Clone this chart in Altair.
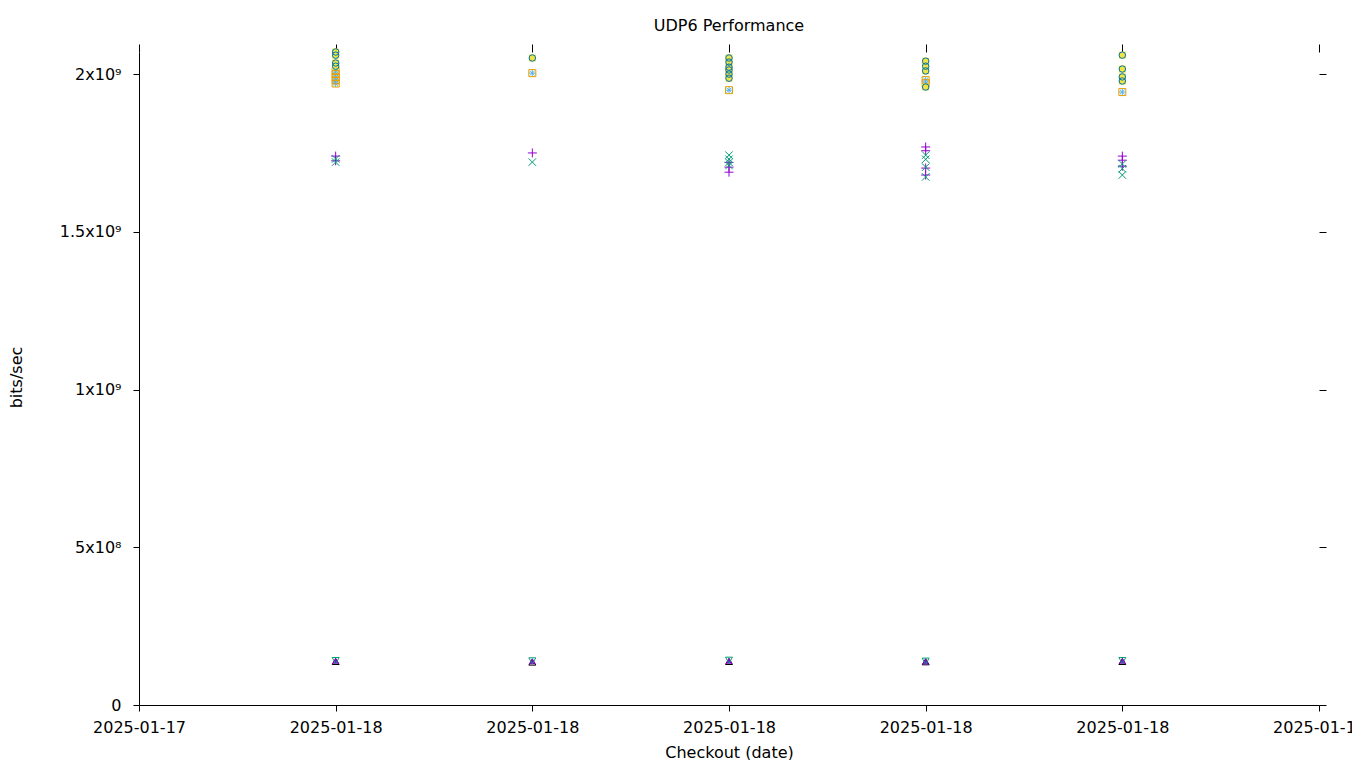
import json
import altair as alt
import pandas as pd

# ---- axis ticks / labels ----
x_tick_vals = [0, 1, 2, 3, 4, 5, 6]
x_tick_labels = ["2025-01-17", "2025-01-18", "2025-01-18", "2025-01-18",
                 "2025-01-18", "2025-01-18", "2025-01-18"]
y_tick_vals = [0, 500000000, 1000000000, 1500000000, 2000000000]
y_tick_labels = ["0", "5x10⁸", "1x10⁹", "1.5x10⁹", "2x10⁹"]

# ---- series data (column index = checkout, value = bits/sec) ----
s1_col = [1, 1, 2, 3, 3, 3, 4, 4, 4, 4, 5, 5, 5]
s1_val = [1.740e9, 1.725e9, 1.750e9, 1.689e9, 1.720e9, 1.705e9,
          1.769e9, 1.757e9, 1.702e9, 1.680e9, 1.740e9, 1.727e9, 1.708e9]

s2_col = [1, 1, 2, 3, 3, 3, 3, 4, 4, 4, 4, 5, 5, 5]
s2_val = [1.731e9, 1.721e9, 1.721e9, 1.743e9, 1.730e9, 1.720e9, 1.710e9,
          1.743e9, 1.730e9, 1.705e9, 1.674e9, 1.715e9, 1.700e9, 1.680e9]

s3_col = [1, 1, 1, 1, 1, 2, 3, 4, 4, 5]
s3_val = [2.010e9, 2.000e9, 1.990e9, 1.980e9, 1.970e9, 2.003e9,
          1.949e9, 1.981e9, 1.971e9, 1.943e9]

s4_col = [1, 1, 1, 1, 1, 2, 3, 4, 4, 5]
s4_val = [2.010e9, 2.000e9, 1.990e9, 1.980e9, 1.970e9, 2.003e9,
          1.949e9, 1.981e9, 1.971e9, 1.943e9]

s5_col = [1, 1, 1, 1, 2, 3, 3, 3, 3, 3, 3, 4, 4, 4, 4, 5, 5, 5, 5]
s5_val = [2.070e9, 2.060e9, 2.035e9, 2.025e9, 2.051e9,
          2.051e9, 2.038e9, 2.022e9, 2.013e9, 2.000e9, 1.987e9,
          2.041e9, 2.025e9, 2.010e9, 1.959e9,
          2.060e9, 2.016e9, 1.991e9, 1.978e9]

s6_col = [1, 1, 1, 1, 2, 3, 3, 3, 3, 3, 3, 4, 4, 4, 4, 5, 5, 5, 5]
s6_val = [2.070e9, 2.060e9, 2.035e9, 2.025e9, 2.051e9,
          2.051e9, 2.038e9, 2.022e9, 2.013e9, 2.000e9, 1.987e9,
          2.041e9, 2.025e9, 2.010e9, 1.959e9,
          2.060e9, 2.016e9, 1.991e9, 1.978e9]

s7_col = [1, 2, 3, 4, 5]
s7_val = [1.38e8, 1.36e8, 1.38e8, 1.37e8, 1.38e8]

s8_col = [1, 2, 3, 4, 5]
s8_val = [1.40e8, 1.39e8, 1.40e8, 1.38e8, 1.40e8]

s9_col = [1, 2, 3, 4, 5]
s9_val = [1.41e8, 1.40e8, 1.42e8, 1.39e8, 1.41e8]

series = [
    ("s1", s1_col, s1_val, "#9400d3", "M-1,0H1M0,-1V1", False, 81),
    ("s2", s2_col, s2_val, "#009e73", "M-1,-1L1,1M-1,1L1,-1", False, 56),
    ("s3", s3_col, s3_val, "#56b4e9", "M-1,0H1M0,-1V1M-0.7,-0.7L0.7,0.7M-0.7,0.7L0.7,-0.7", False, 49),
    ("s4", s4_col, s4_val, "#e69f00", "square", False, 49),
    ("s5", s5_col, s5_val, "#f0e442", "square", True, 49),
    ("s6", s6_col, s6_val, "#0072b2", "circle", False, 42),
    ("s7", s7_col, s7_val, "#000000", "triangle-up", False, 49),
    ("s8", s8_col, s8_val, "#9400d3", "triangle-up", True, 49),
    ("s9", s9_col, s9_val, "#009e73", "triangle-down", False, 49),
]

rows = []
for name, cols, vals, *_ in series:
    for c, v in zip(cols, vals):
        rows.append({"series": name, "col": c, "val": v})
df = pd.DataFrame(rows)

FONT = "DejaVu Sans"
FS = 16
x_scale = alt.Scale(domain=[0, 6], nice=False, zero=False)
y_scale = alt.Scale(domain=[0, 2.07e9], nice=False, zero=False)

x_label_expr = json.dumps(x_tick_labels, ensure_ascii=False) + "[datum.value]"
y_label_expr = "''"
for v, l in reversed(list(zip(y_tick_vals, y_tick_labels))):
    y_label_expr = f"datum.value == {v} ? '{l}' : ({y_label_expr})"

axis_common = dict(grid=False, domainColor="black", tickColor="black", labelColor="black",
                   labelFont=FONT, labelFontSize=FS, titleFont=FONT, titleFontSize=FS,
                   titleFontWeight="normal", titleColor="black", tickWidth=1, domainWidth=1)

base = alt.Chart(df)

axes_layer = base.mark_point(opacity=0).encode(
    x=alt.X("col:Q", scale=x_scale,
            axis=alt.Axis(values=x_tick_vals, labelExpr=x_label_expr, title="Checkout (date)",
                          orient="bottom", tickSize=6, labelPadding=8,
                          titleX=590, titleY=47, titleBaseline="middle", titleAlign="center",
                          labelOverlap=False, labelFlush=False, **axis_common)),
    y=alt.Y("val:Q", scale=y_scale,
            axis=alt.Axis(values=y_tick_vals, labelExpr=y_label_expr, title="bits/sec",
                          orient="left", tickSize=6, labelPadding=12,
                          titleX=-123, titleY=325, titleBaseline="middle", titleAlign="center",
                          titleAngle=-90, labelOverlap=False, **axis_common)),
)

mirror_layer = base.mark_point(opacity=0).encode(
    x=alt.X("col:Q", scale=x_scale,
            axis=alt.Axis(values=x_tick_vals, orient="top", labels=False, domain=False,
                          tickSize=8, title=None, grid=False, tickColor="black")),
    y=alt.Y("val:Q", scale=y_scale,
            axis=alt.Axis(values=y_tick_vals, orient="right", labels=False, domain=False,
                          tickSize=7, title=None, grid=False, tickColor="black")),
)

layers = [axes_layer, mirror_layer]
for name, cols, vals, color, shape, filled, size in series:
    lay = base.transform_filter(alt.datum.series == name).mark_point(
        shape=shape, filled=filled, size=size, opacity=1, strokeWidth=1, color=color
    ).encode(
        x=alt.X("col:Q", scale=x_scale, axis=None),
        y=alt.Y("val:Q", scale=y_scale, axis=None),
    )
    layers.append(lay)

chart = alt.layer(*layers).resolve_axis(x="independent", y="independent").properties(
    width=1180, height=653,
    title=alt.TitleParams("UDP6 Performance", font=FONT, fontSize=FS, fontWeight="normal",
                          color="black", anchor="middle", offset=10),
    autosize=alt.AutoSizeParams(type="none"),
    padding={"left": 131, "top": 44, "right": 33, "bottom": 55},
    background="white",
).configure_view(stroke=None)

chart.save("out.html", embed_options={"renderer": "svg", "actions": False})
